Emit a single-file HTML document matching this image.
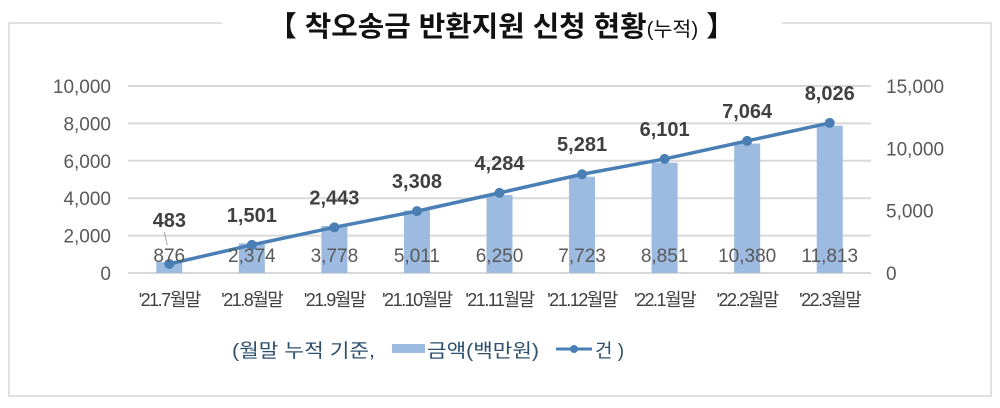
<!DOCTYPE html>
<html><head><meta charset="utf-8"><style>
html,body{margin:0;padding:0;background:#fff;width:1000px;height:408px;overflow:hidden}
svg{display:block}
text{font-family:"Liberation Sans","Noto Sans CJK KR",sans-serif}
</style></head><body>
<svg id="chart" width="1000" height="408" viewBox="0 0 1000 408">
<path d="M222 23 H9 V396 H991 V23 H782" fill="none" stroke="#cfcfcf" stroke-width="1.2"/>
<text x="268" y="36" font-size="28" font-weight="bold" fill="#111" textLength="467" lengthAdjust="spacingAndGlyphs">【 착오송금 반환지원 신청 현황<tspan font-size="20" font-weight="normal">(누적)</tspan> 】</text>
<g id="grid"></g><g id="bars"></g><g id="line"></g><g id="labels"></g>
<g>
<text x="232" y="357" font-size="19" fill="#2d4f6e" textLength="143" lengthAdjust="spacingAndGlyphs">(월말 누적 기준,</text>
<rect x="392" y="344" width="33" height="9" fill="#9dbbe0"/>
<text x="427" y="357" font-size="19" fill="#2d4f6e" textLength="112" lengthAdjust="spacingAndGlyphs">금액(백만원)</text>
<line x1="556" y1="349" x2="592" y2="349" stroke="#4a7fb5" stroke-width="3"/>
<circle cx="574" cy="349" r="4" fill="#4a7fb5"/>
<text x="595" y="357" font-size="19" fill="#2d4f6e">건 )</text>
</g>
</svg>
<script>
const categories=["'21.7월말","'21.8월말","'21.9월말","'21.10월말","'21.11월말","'21.12월말","'22.1월말","'22.2월말","'22.3월말"];
const categoryLabels=["'21.7월말","'21.8월말","'21.9월말","'21.10월말","'21.11월말","'21.12월말","'22.1월말","'22.2월말","'22.3월말"];
const barValues=[876,2374,3778,5011,6250,7723,8851,10380,11813];
const lineValues=[483,1501,2443,3308,4284,5281,6101,7064,8026];
const leftTicks=[0,2000,4000,6000,8000,10000];
const rightTicks=[0,5000,10000,15000];
const NS="http://www.w3.org/2000/svg";
const x0=128,x1=871,yBase=273,yTop=86;
const step=(x1-x0)/categories.length;
const xPos=i=>x0+step*(i+0.5);
const yL=v=>yBase-(v/10000)*(yBase-yTop);
const yR=v=>yBase-(v/15000)*(yBase-yTop);
const fmt=v=>v.toLocaleString('en-US');
function mk(tag,attrs,parent,txt){const e=document.createElementNS(NS,tag);for(const k in attrs)e.setAttribute(k,attrs[k]);if(txt!==undefined)e.textContent=txt;parent.appendChild(e);return e;}
const grid=document.getElementById('grid'),bars=document.getElementById('bars'),line=document.getElementById('line'),labels=document.getElementById('labels');
leftTicks.forEach(t=>{
  const g=mk('line',{x1:x0,x2:x1,y1:yL(t),y2:yL(t),stroke:'#d9d9d9','stroke-width':2},grid);
  
  
  const l=mk('text',{x:111,y:yL(t)+7,'text-anchor':'end','font-size':19,fill:'#595959'},grid,fmt(t));
  
  
});
rightTicks.forEach(t=>{
  const l=mk('text',{x:886,y:yR(t)+7,'font-size':19,fill:'#595959'},grid,fmt(t));
  
  
});
const bw=26;
barValues.forEach((v,i)=>{
  const r=mk('rect',{x:xPos(i)-bw/2,y:yR(v),width:bw,height:yBase-yR(v),fill:'#9dbbe0'},bars);
  
  
  const t=mk('text',{x:xPos(i),y:262,'text-anchor':'middle','font-size':19,fill:'#595959'},labels,fmt(v));
  
  
  const c=mk('text',{x:xPos(i),y:306,'text-anchor':'middle','font-size':18,fill:'#404040','letter-spacing':'-1.5'},labels,categoryLabels[i]);
  
  
});
const pts=lineValues.map((v,i)=>xPos(i)+','+yL(v)).join(' ');
const pl=mk('polyline',{points:pts,fill:'none',stroke:'#4a7fb5','stroke-width':3.5,'stroke-linejoin':'round'},line);


lineValues.forEach((v,i)=>{
  const c=mk('circle',{cx:xPos(i),cy:yL(v),r:5,fill:'#4a7fb5'},line);
  
  
  const ly=i===0?227:yL(v)-23;
  const t=mk('text',{x:xPos(i),y:ly,'text-anchor':'middle','font-size':20,'font-weight':'bold',fill:'#404040'},labels,fmt(v));
  
  
});
const lead=mk('line',{x1:xPos(0)-5,y1:232,x2:xPos(0)-2,y2:245,stroke:'#a6a6a6','stroke-width':1},labels);


</script>
</body></html>
